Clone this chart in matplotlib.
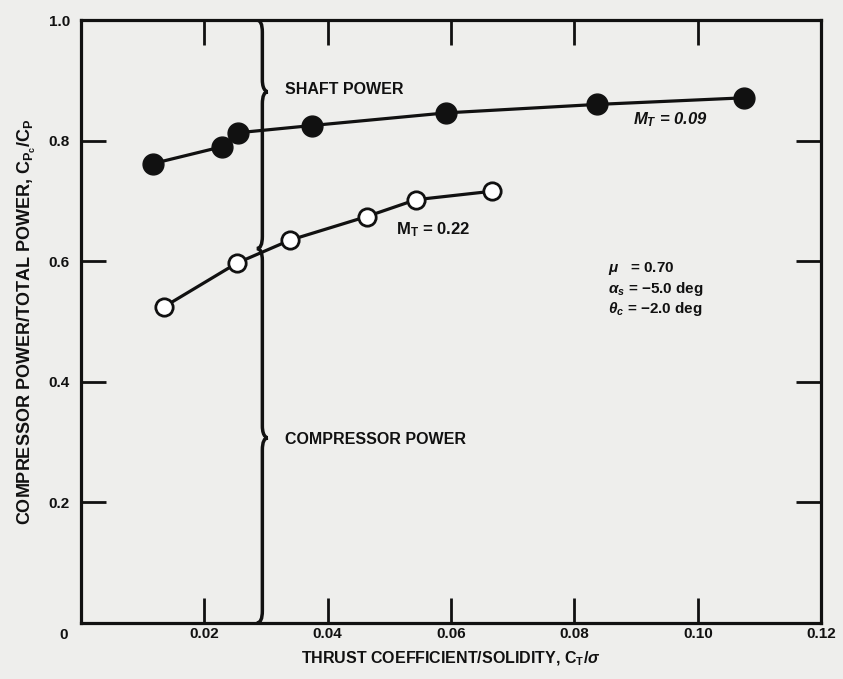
import numpy as np
import matplotlib
matplotlib.use('Agg')
from matplotlib import pyplot as plt
from matplotlib.path import Path
from matplotlib.patches import PathPatch

plt.rcParams['font.family'] = ['Liberation Sans', 'DejaVu Sans']
plt.rcParams['font.weight'] = 'bold'
plt.rcParams['axes.labelweight'] = 'bold'
plt.rcParams['mathtext.fontset'] = 'custom'
plt.rcParams['mathtext.rm'] = 'Liberation Sans:bold'
plt.rcParams['mathtext.it'] = 'Liberation Sans:bold:italic'
plt.rcParams['mathtext.bf'] = 'Liberation Sans:bold'

# data
ct_sigma_009 = [0.0117, 0.0229, 0.0254, 0.0374, 0.0592, 0.0836, 0.1075]
ratio_009 = [0.762, 0.790, 0.813, 0.825, 0.846, 0.860, 0.871]
ct_sigma_022 = [0.0134, 0.0253, 0.0339, 0.0463, 0.0543, 0.0666]
ratio_022 = [0.524, 0.597, 0.635, 0.674, 0.702, 0.716]

x_ticks = [0.02, 0.04, 0.06, 0.08, 0.10, 0.12]
x_labels = ['0.02', '0.04', '0.06', '0.08', '0.10', '0.12']
y_ticks = [0.2, 0.4, 0.6, 0.8, 1.0]
y_labels = ['0.2', '0.4', '0.6', '0.8', '1.0']

# brace divider: x position, split point, tips
brace_x = 0.0294
brace_split = 0.621
shaft_tip = 0.881
comp_tip = 0.307

BG = '#eeeeec'
INK = '#111111'

fig = plt.figure(figsize=(8.43, 6.79), dpi=100, facecolor=BG)
ax = fig.add_axes([0.0961, 0.0825, 0.878, 0.888], facecolor=BG)

ax.plot(ct_sigma_009, ratio_009, color=INK, lw=2.3, marker='o', ms=15,
        mfc=INK, mec=INK, zorder=3)
ax.plot(ct_sigma_022, ratio_022, color=INK, lw=2.3, marker='o', ms=12.5,
        mfc='white', mec=INK, mew=2.0, zorder=3)


def brace(x, y0, y1, ym, d=0.0009, e=0.02):
    verts = [(x - d, y1), (x, y1), (x, y1 - e),
             (x, ym + e),
             (x, ym), (x + d, ym), (x + d, ym),
             (x, ym), (x, ym - e),
             (x, y0 + e),
             (x, y0), (x - d, y0)]
    codes = [Path.MOVETO, Path.CURVE3, Path.CURVE3,
             Path.LINETO,
             Path.CURVE4, Path.CURVE4, Path.CURVE4,
             Path.CURVE3, Path.CURVE3,
             Path.LINETO,
             Path.CURVE3, Path.CURVE3]
    ax.add_patch(PathPatch(Path(verts, codes), fill=False, lw=2.5,
                           ec=INK, zorder=2))


brace(brace_x, brace_split, 1.0, shaft_tip)
brace(brace_x, 0.0, brace_split, comp_tip)

ax.text(0.0330, 0.885, 'SHAFT POWER', fontsize=11.5, va='center', color=INK)
ax.text(0.0330, 0.305, 'COMPRESSOR POWER', fontsize=11.5, va='center', color=INK)
ax.text(0.0895, 0.835, r'$\mathit{M_T}$ = 0.09', fontsize=12, style='italic',
        va='center', color=INK)
ax.text(0.0510, 0.653, r'$\mathrm{M_T}$ = 0.22', fontsize=12, va='center',
        color=INK)
ax.text(0.0855, 0.588, r'$\mathit{\mu}$   = 0.70', fontsize=11, va='center', color=INK)
ax.text(0.0855, 0.554, r'$\mathit{\alpha_s}$ = $-$5.0 deg', fontsize=11, va='center', color=INK)
ax.text(0.0855, 0.520, r'$\mathit{\theta_c}$ = $-$2.0 deg', fontsize=11, va='center', color=INK)

ax.set_xlim(0, 0.12)
ax.set_ylim(0, 1.0)
ax.set_xticks(x_ticks)
ax.set_xticklabels(x_labels)
ax.set_yticks(y_ticks)
ax.set_yticklabels(y_labels)
ax.tick_params(direction='in', length=18, width=2, top=True, right=True,
               labelsize=11, colors=INK)
ax.tick_params(axis='x', pad=3)
ax.tick_params(axis='y', pad=8)
for s in ax.spines.values():
    s.set_linewidth(2.3)
    s.set_color(INK)
ax.text(-0.0028, -0.009, '0', fontsize=11, ha='center', va='top', color=INK)

ax.set_xlabel(r'THRUST COEFFICIENT/SOLIDITY, $\mathrm{C_T}/\mathit{\sigma}$',
              fontsize=11.5, labelpad=6, color=INK)
ax.set_ylabel(r'COMPRESSOR POWER/TOTAL POWER, $\mathrm{C_{P_c}/C_P}$',
              fontsize=13, labelpad=8, color=INK)

fig.savefig('out.png', dpi=100, facecolor=BG)
